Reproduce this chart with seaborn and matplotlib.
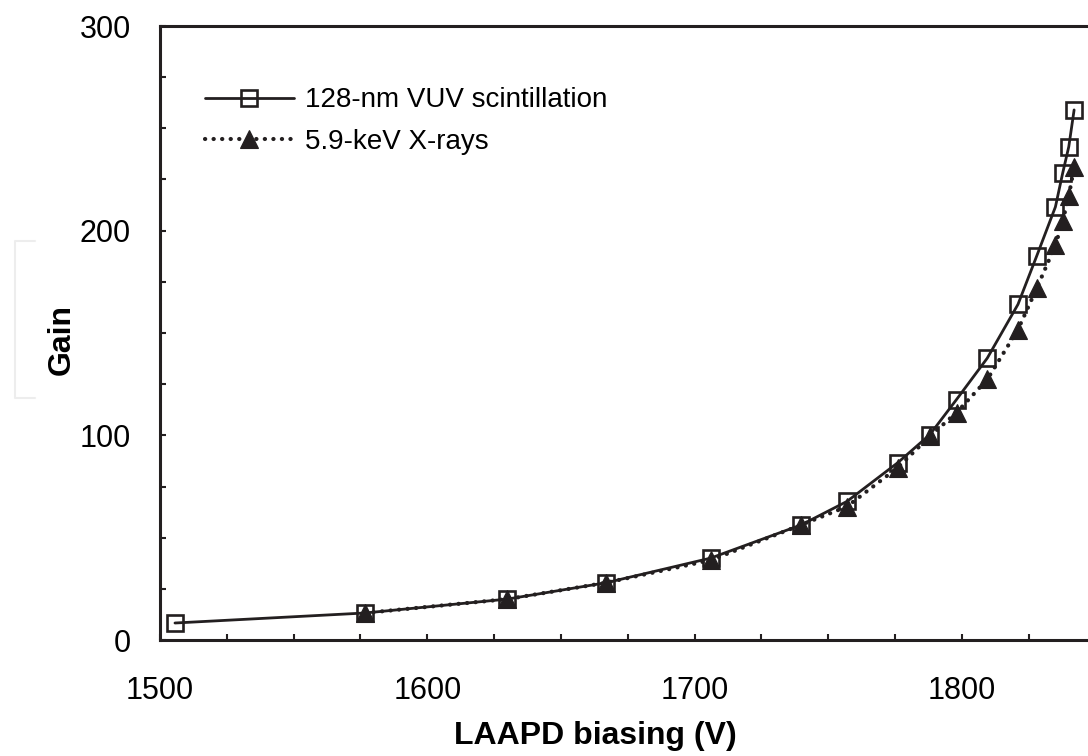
import matplotlib
matplotlib.use("Agg")
import matplotlib.pyplot as plt
from matplotlib.lines import Line2D
from matplotlib.ticker import MultipleLocator
import seaborn as sns
import pandas as pd

# ---- data ----
vuv_bias = [1505.6, 1576.7, 1630.0, 1667.0, 1706.0, 1740.0, 1757.0, 1776.0, 1788.0,
            1798.0, 1809.5, 1821.0, 1828.0, 1835.0, 1837.7, 1840.0, 1842.0]
vuv_gain = [8.3, 13.2, 20.0, 28.0, 40.0, 56.3, 67.7, 86.6, 100.3,
            117.5, 137.7, 164.0, 187.6, 211.6, 228.0, 241.0, 259.0]

xray_bias = [1576.7, 1630.0, 1667.0, 1706.0, 1740.0, 1757.0, 1776.0, 1788.0,
             1798.0, 1809.5, 1821.0, 1828.0, 1835.0, 1837.7, 1840.0, 1842.0]
xray_gain = [13.2, 20.0, 28.0, 39.0, 56.3, 65.2, 84.2, 99.5,
             111.1, 127.3, 151.7, 171.8, 192.9, 204.6, 216.8, 231.0]

series_labels = ["128-nm VUV scintillation", "5.9-keV X-rays"]
x_ticks = [1500, 1600, 1700, 1800]
y_ticks = [0, 100, 200, 300]
x_label = "LAAPD biasing (V)"
y_label = "Gain"

sns.set_theme(style="white")
plt.rcParams["font.family"] = ["Liberation Sans", "DejaVu Sans"]

INK = "#231f20"

fig = plt.figure(figsize=(10.88, 7.56), dpi=100)
ax = fig.add_axes([160 / 1088, 116 / 756, 935.5 / 1088, 614 / 756])

df_vuv = pd.DataFrame({"bias": vuv_bias, "gain": vuv_gain})
df_xray = pd.DataFrame({"bias": xray_bias, "gain": xray_gain})

sns.lineplot(data=df_vuv, x="bias", y="gain", ax=ax, sort=False, estimator=None,
             color=INK, linewidth=2.0, marker="s", markersize=12,
             markerfacecolor="none", markeredgecolor=INK, markeredgewidth=1.9,
             label=series_labels[0], zorder=3)
sns.lineplot(data=df_xray, x="bias", y="gain", ax=ax, sort=False, estimator=None,
             color=INK, linewidth=3.0, marker="^", markersize=12.5,
             markerfacecolor=INK, markeredgecolor=INK, markeredgewidth=0.8,
             label=series_labels[1], zorder=4)

lines = ax.get_lines()
dot_line = lines[1]
dot_line.set_linestyle((0, (0.05, 2.0)))
dot_line.set_dash_capstyle("round")

ax.set_xlim(1500, 1850)
ax.set_ylim(0, 300)
ax.set_xticks(x_ticks)
ax.set_yticks(y_ticks)
ax.xaxis.set_minor_locator(MultipleLocator(25))
ax.yaxis.set_minor_locator(MultipleLocator(25))
ax.tick_params(axis="both", which="both", direction="in", length=4.5, width=1.5,
               color=INK, bottom=True, left=True, top=False, right=False)
ax.tick_params(axis="x", which="major", labelsize=22, pad=26, labelcolor="black")
ax.tick_params(axis="y", which="major", labelsize=22, pad=21, labelcolor="black")

for side in ["left", "bottom", "top", "right"]:
    ax.spines[side].set_color(INK)
    ax.spines[side].set_linewidth(2.2)

ax.set_xlabel(x_label, fontsize=23, fontweight="bold", color="black")
ax.set_ylabel(y_label, fontsize=23, fontweight="bold", color="black")
ax.xaxis.set_label_coords(0.4655, -0.132)
ax.yaxis.set_label_coords(-0.089, 0.49)

leg = ax.legend(handles=lines, labels=series_labels, loc="upper left",
                bbox_to_anchor=(0.048, 0.90), frameon=False, fontsize=20,
                handlelength=3.2, handletextpad=0.4, labelspacing=0.55,
                borderpad=0, borderaxespad=0, numpoints=1)
for t in leg.get_texts():
    t.set_color("black")

# faint bracket artifact left of the y label
fig.add_artist(Line2D([35 / 1088, 15 / 1088, 15 / 1088, 35 / 1088],
                      [1 - 241 / 756, 1 - 241 / 756, 1 - 398 / 756, 1 - 398 / 756],
                      color="#ededed", linewidth=1.5))

fig.savefig("out.png", dpi=100)
